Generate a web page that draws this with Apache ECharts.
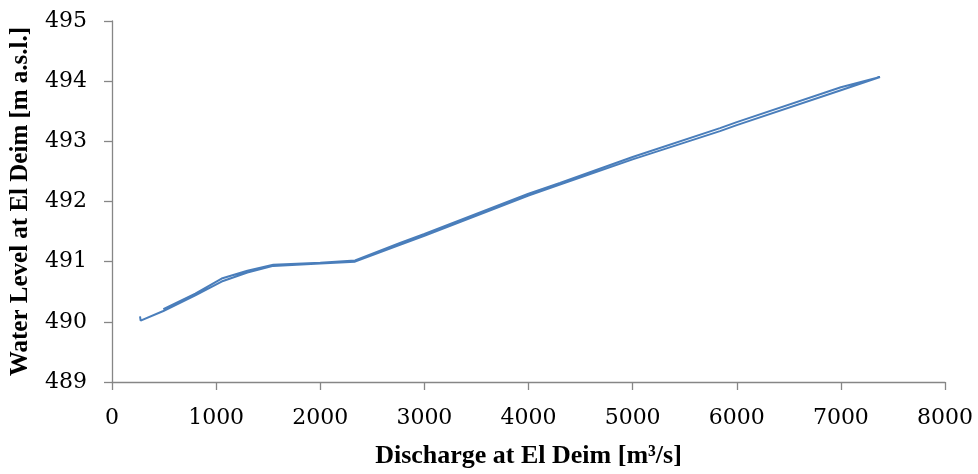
<!DOCTYPE html>
<html>
<head>
<meta charset="utf-8">
<script src="https://cdn.jsdelivr.net/npm/echarts@6/dist/echarts.min.js"></script>
<style>html,body{margin:0;padding:0;background:#fff}#c{width:978px;height:474px}</style>
</head>
<body>
<div id="c"></div>
<script>
// Rising limb (lower branch) discharge [m3/s] and water level [m a.s.l.]
const qRise = [269, 275, 493, 800, 1053, 1300, 1549, 2000, 2334, 2766, 3000, 4000, 4302, 5000, 5839, 6000, 7000, 7376];
const hRise = [490.09, 490.02, 490.18, 490.44, 490.67, 490.82, 490.93, 490.97, 491.00, 491.28, 491.43, 492.10, 492.28, 492.70, 493.17, 493.27, 493.85, 494.07];
// Falling limb (upper branch)
const qFall = [7376, 7000, 6000, 5839, 5000, 4302, 4000, 3000, 2766, 2334, 2000, 1549, 1300, 1053, 800, 493];
const hFall = [494.08, 493.90, 493.32, 493.22, 492.74, 492.31, 492.13, 491.46, 491.31, 491.02, 490.98, 490.95, 490.85, 490.72, 490.47, 490.21];
const xTicks = [0, 1000, 2000, 3000, 4000, 5000, 6000, 7000, 8000];
const yTicks = [489, 490, 491, 492, 493, 494, 495];

const loop = qRise.map((q, i) => [q, hRise[i]]).concat(qFall.map((q, i) => [q, hFall[i]]));

const chart = echarts.init(document.getElementById('c'));
const axisCommon = {
  axisLine: { show: true, lineStyle: { color: '#868686', width: 1.3 } },
  axisTick: { show: true, length: 8, lineStyle: { color: '#868686', width: 1.3 } },
  splitLine: { show: false },
  axisLabel: { color: '#000', fontFamily: 'DejaVu Serif', fontSize: 22, margin: 25, formatter: v => String(v) }
};
chart.setOption({
  animation: false,
  grid: { left: 112, right: 33, top: 21, bottom: 91 },
  xAxis: Object.assign({}, axisCommon, {
    type: 'value', min: xTicks[0], max: xTicks[xTicks.length - 1], interval: 1000,
    name: 'Discharge at El Deim [m³/s]', nameLocation: 'middle', nameGap: 61,
    nameTextStyle: { color: '#000', fontFamily: 'Liberation Serif', fontWeight: 'bold', fontSize: 26 }
  }),
  yAxis: Object.assign({}, axisCommon, {
    type: 'value', min: yTicks[0], max: yTicks[yTicks.length - 1], interval: 1,
    name: 'Water Level at El Deim [m a.s.l.]', nameLocation: 'middle', nameGap: 79,
    nameTextStyle: { color: '#000', fontFamily: 'Liberation Serif', fontWeight: 'bold', fontSize: 25 }
  }),
  series: [{
    type: 'line', data: loop, showSymbol: false, smooth: false,
    lineStyle: { color: '#4A7EBB', width: 2 }
  }]
});
</script>
</body>
</html>
